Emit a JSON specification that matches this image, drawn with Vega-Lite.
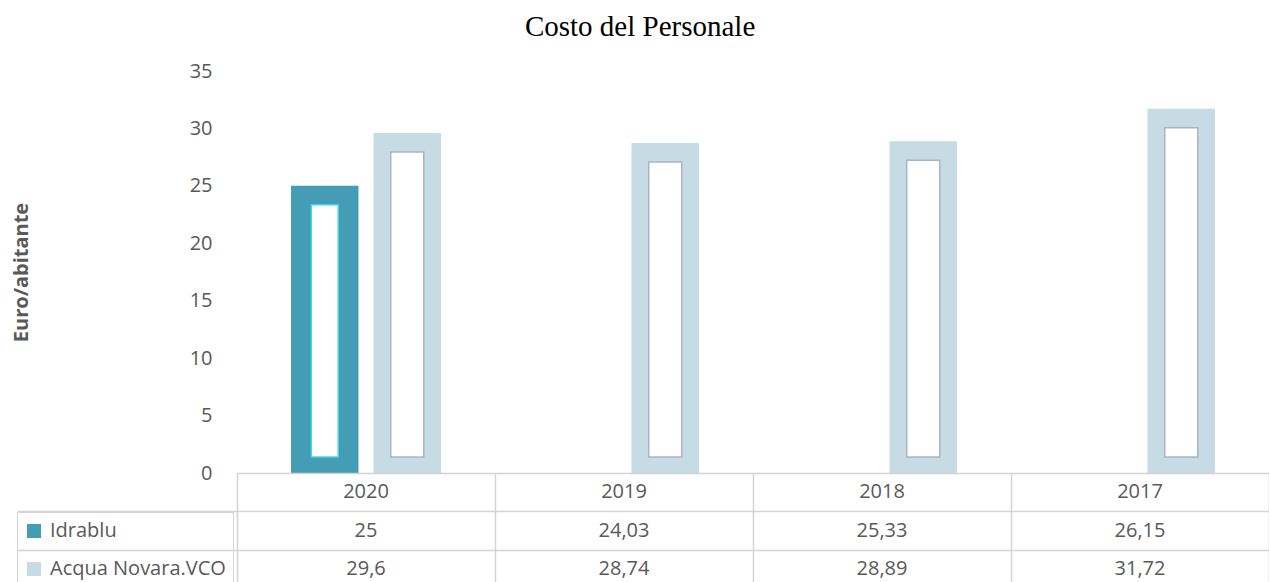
{
  "$schema": "https://vega.github.io/schema/vega-lite/v6.json",
  "background": "white",
  "padding": {"left": 11, "top": 13, "right": 0, "bottom": -6},
  "bounds": "flush",
  "config": {
    "locale": {"number": {"decimal": ",", "thousands": ".", "grouping": [3], "currency": ["€", ""]}},
    "view": {"stroke": null},
    "font": "Open Sans"
  },
  "title": {"text": "Costo del Personale", "font": "Liberation Serif", "fontSize": 29, "fontWeight": "normal", "color": "#000000", "anchor": "middle", "offset": 19},
  "datasets": {
    "costs": [
      {"year": "2020", "series": "Idrablu", "value": 25},
      {"year": "2019", "series": "Idrablu", "value": 24.03},
      {"year": "2018", "series": "Idrablu", "value": 25.33},
      {"year": "2017", "series": "Idrablu", "value": 26.15},
      {"year": "2020", "series": "Acqua Novara.VCO", "value": 29.6},
      {"year": "2019", "series": "Acqua Novara.VCO", "value": 28.74},
      {"year": "2018", "series": "Acqua Novara.VCO", "value": 28.89},
      {"year": "2017", "series": "Acqua Novara.VCO", "value": 31.72}
    ]
  },
  "spacing": 0,
  "resolve": {"legend": {"color": "independent"}, "scale": {"color": "independent"}},
  "vconcat": [
    {
      "width": 1032,
      "height": 402,
      "data": {"name": "costs"},
      "transform": [{"filter": "datum.series !== 'Idrablu' || datum.year === '2020'"}],
      "encoding": {
        "x": {"field": "year", "type": "nominal", "sort": ["2020", "2019", "2018", "2017"], "scale": {"paddingInner": 0, "paddingOuter": 0}, "axis": null},
        "xOffset": {"field": "series", "type": "nominal", "sort": ["Idrablu", "Acqua Novara.VCO"], "scale": {"domain": ["Idrablu", "Acqua Novara.VCO"], "paddingInner": 0.182, "paddingOuter": 0.655}},
        "y": {
          "field": "value", "type": "quantitative",
          "scale": {"domain": [0, 35], "nice": false},
          "axis": {
            "values": [0, 5, 10, 15, 20, 25, 30, 35],
            "grid": false, "domain": false, "ticks": false, "tickSize": 0,
            "labelPadding": 25, "labelFont": "Open Sans", "labelFontSize": 20, "labelColor": "#595959",
            "title": "Euro/abitante", "titleFont": "Open Sans", "titleFontSize": 20, "titleFontWeight": "bold", "titleColor": "#595959", "titlePadding": 158
          }
        }
      },
      "layer": [
        {
          "mark": {"type": "bar"},
          "encoding": {
            "color": {"field": "series", "type": "nominal", "scale": {"domain": ["Idrablu", "Acqua Novara.VCO"], "range": ["#449db5", "#c7dbe5"]}, "legend": null}
          }
        },
        {
          "mark": {"type": "bar", "fill": "white", "yOffset": 19, "y2Offset": -16, "strokeWidth": 1.5},
          "encoding": {
            "y2": {"datum": 0},
            "size": {"field": "series", "type": "ordinal", "scale": {"domain": ["Idrablu", "Acqua Novara.VCO"], "range": [27, 33]}, "legend": null},
            "stroke": {"field": "series", "type": "nominal", "scale": {"domain": ["Idrablu", "Acqua Novara.VCO"], "range": ["#3fd6e6", "#aab4c8"]}, "legend": null}
          }
        }
      ]
    },
    {
      "width": 1032,
      "height": 115,
      "data": {"name": "costs"},
      "encoding": {
        "x": {
          "field": "year", "type": "nominal", "sort": ["2020", "2019", "2018", "2017"],
          "scale": {"paddingInner": 0, "paddingOuter": 0},
          "axis": {"orient": "bottom", "labels": false, "ticks": false, "domain": false, "title": null, "grid": true, "gridColor": "#d4d4d4", "gridWidth": 1.5, "tickBand": "extent"}
        },
        "y": {
          "field": "series", "type": "nominal",
          "scale": {"domain": ["header", "Idrablu", "Acqua Novara.VCO"], "paddingInner": 0, "paddingOuter": 0},
          "axis": {
            "labels": false, "domain": false, "title": null, "ticks": true, "tickSize": 220, "tickWidth": 1.5, "tickBand": "extent",
            "tickColor": {"condition": {"test": "datum.value == null || datum.index === -1", "value": "transparent"}, "value": "#d4d4d4"},
            "grid": true, "gridColor": "#d4d4d4", "gridWidth": 1.5
          }
        }
      },
      "layer": [
        {
          "mark": {"type": "rect", "opacity": 0},
          "encoding": {
            "color": {
              "field": "series", "type": "nominal",
              "scale": {"domain": ["Idrablu", "Acqua Novara.VCO"], "range": ["#449db5", "#c7dbe5"]},
              "legend": {
                "title": null, "orient": "none", "legendX": -220, "legendY": 39, "direction": "vertical",
                "symbolType": "square", "symbolSize": 196, "symbolOpacity": 1, "symbolStrokeWidth": 0,
                "labelFont": "Open Sans", "labelFontSize": 20, "labelColor": "#595959", "labelOffset": 6, "labelLimit": 300,
                "padding": 7, "clipHeight": 24, "rowPadding": 14, "strokeColor": "#d4d4d4"
              }
            }
          }
        },
        {
          "transform": [{"filter": "datum.series === 'Idrablu'"}],
          "mark": {"type": "text", "font": "Open Sans", "fontSize": 20, "color": "#595959", "align": "center", "baseline": "middle"},
          "encoding": {
            "y": {"datum": "header", "type": "nominal"},
            "text": {"field": "year", "type": "nominal"}
          }
        },
        {
          "mark": {"type": "text", "font": "Open Sans", "fontSize": 20, "color": "#595959", "align": "center", "baseline": "middle"},
          "encoding": {
            "text": {"field": "value", "type": "quantitative", "format": "~g"}
          }
        }
      ]
    }
  ]
}
